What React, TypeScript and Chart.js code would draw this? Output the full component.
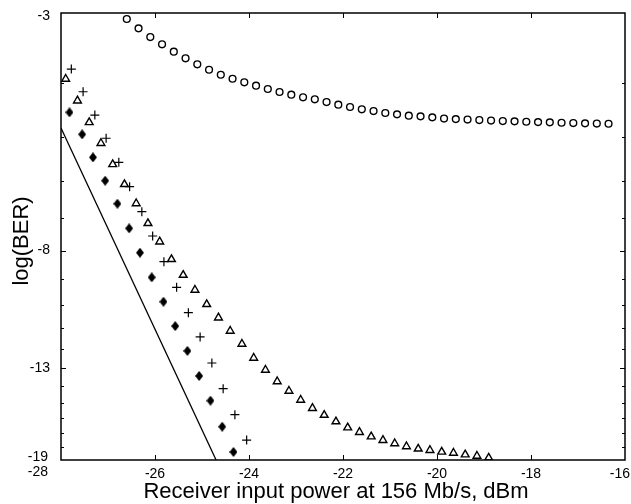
import React, { useEffect, useRef } from "react";
import { Chart, registerables } from "chart.js";

Chart.register(...registerables);

// ---- Data (x: receiver input power in dBm, y: log(BER)) ----
const xTickValues = [-28, -26, -24, -22, -20, -18, -16];
const yTickLabelValues = [-3, -8, -13, -19];
const yMinorTickValues = [-4, -5, -6, -7, -9, -10, -11, -12, -14, -15, -16, -17, -18];

const circleX = [
  -26.6, -26.35, -26.1, -25.85, -25.6, -25.35, -25.1, -24.85, -24.6, -24.35,
  -24.1, -23.85, -23.6, -23.35, -23.1, -22.85, -22.6, -22.35, -22.1, -21.85,
  -21.6, -21.35, -21.1, -20.85, -20.6, -20.35, -20.1, -19.85, -19.6, -19.35,
  -19.1, -18.85, -18.6, -18.35, -18.1, -17.85, -17.6, -17.35, -17.1, -16.85,
  -16.6, -16.35,
];
const circleY = [
  -3.075, -3.196, -3.313, -3.414, -3.52, -3.617, -3.708, -3.792, -3.871, -3.936,
  -3.994, -4.05, -4.106, -4.157, -4.204, -4.249, -4.284, -4.333, -4.381, -4.423,
  -4.465, -4.497, -4.534, -4.559, -4.585, -4.597, -4.616, -4.639, -4.649, -4.658,
  -4.668, -4.677, -4.687, -4.693, -4.701, -4.707, -4.712, -4.72, -4.726, -4.732,
  -4.736, -4.74,
];

const triangleX = [
  -27.9, -27.65, -27.4, -27.15, -26.9, -26.65, -26.4, -26.15, -25.9, -25.65,
  -25.4, -25.15, -24.9, -24.65, -24.4, -24.15, -23.9, -23.65, -23.4, -23.15,
  -22.9, -22.65, -22.4, -22.15, -21.9, -21.65, -21.4, -21.15, -20.9, -20.65,
  -20.4, -20.15, -19.9, -19.65, -19.4, -19.15, -18.9,
];
const triangleY = [
  -3.94, -4.309, -4.712, -5.137, -5.605, -6.086, -6.588, -7.149, -7.714, -8.295,
  -8.852, -9.416, -9.989, -10.557, -11.153, -11.768, -12.468, -13.102, -13.739, -14.288,
  -14.83, -15.34, -15.78, -16.21, -16.62, -16.94, -17.25, -17.51, -17.75, -17.97,
  -18.14, -18.25, -18.37, -18.46, -18.58, -18.69, -18.83,
];

const plusX = [
  -27.78, -27.53, -27.28, -27.04, -26.77, -26.54, -26.28, -26.05, -25.81, -25.54,
  -25.29, -25.04, -24.79, -24.55, -24.3, -24.05,
];
const plusY = [
  -3.781, -4.153, -4.572, -5.032, -5.559, -6.147, -6.815, -7.535, -8.378, -9.312,
  -10.34, -11.43, -12.73, -14.15, -15.76, -17.5,
];

const diamondX = [
  -27.82, -27.55, -27.32, -27.06, -26.8, -26.55, -26.32, -26.07, -25.82, -25.57,
  -25.31, -25.06, -24.82, -24.57, -24.33,
];
const diamondY = [
  -4.521, -4.951, -5.445, -5.996, -6.594, -7.299, -8.072, -8.937, -9.883, -10.93,
  -12.11, -13.43, -14.87, -16.56, -18.38,
];

const lineX = [-28, -24.7];
const lineY = [-4.825, -19];

const xTitle = "Receiver input power at 156 Mb/s, dBm";
const yTitle = "log(BER)";

// y is drawn on a logarithmic axis of -log(BER)
const toPoints = (xs: number[], ys: number[]) =>
  xs.map((x, i) => ({ x, y: -ys[i] }));

const FONT = '"Liberation Sans", Arial, Helvetica, sans-serif';

const framePlugin = {
  id: "framePlugin",
  afterDraw(chart: any) {
    const { ctx, chartArea: a, scales } = chart;
    const xs = scales.x;
    const ys = scales.y;
    ctx.save();
    ctx.strokeStyle = "#000";
    ctx.fillStyle = "#000";

    const seg = (x1: number, y1: number, x2: number, y2: number) => {
      ctx.beginPath();
      ctx.moveTo(x1, y1);
      ctx.lineTo(x2, y2);
      ctx.stroke();
    };

    // ticks
    ctx.lineWidth = 1;
    xTickValues.forEach((v) => {
      const px = Math.round(xs.getPixelForValue(v)) + 0.5;
      if (px <= a.left + 2 || px >= a.right - 2) return;
      seg(px, a.bottom, px, a.bottom - 5);
      seg(px, a.top, px, a.top + 5);
    });
    yMinorTickValues.forEach((v) => {
      const py = Math.round(ys.getPixelForValue(-v)) + 0.5;
      seg(a.left, py, a.left + 3, py);
      seg(a.right, py, a.right - 3, py);
    });
    yTickLabelValues.forEach((v) => {
      const py = Math.round(ys.getPixelForValue(-v)) + 0.5;
      if (py <= a.top + 2 || py >= a.bottom - 2) return;
      seg(a.left, py, a.left + 5, py);
      seg(a.right, py, a.right - 5, py);
    });

    // frame
    ctx.lineWidth = 1.5;
    ctx.strokeRect(a.left, a.top, a.right - a.left, a.bottom - a.top);

    // tick labels
    ctx.font = `14px ${FONT}`;
    ctx.textBaseline = "middle";
    yTickLabelValues.forEach((v, i) => {
      let py = ys.getPixelForValue(-v);
      ctx.textAlign = "right";
      if (i === 0) py += 3;
      if (i === yTickLabelValues.length - 1) py -= 3;
      ctx.fillText(String(v), i === yTickLabelValues.length - 1 ? 48 : 50, py);
    });
    xTickValues.forEach((v, i) => {
      const px = xs.getPixelForValue(v);
      const py = a.bottom + 14;
      if (i === 0) {
        ctx.textAlign = "right";
        ctx.fillText(String(v), 48, py - 2);
      } else if (i === xTickValues.length - 1) {
        ctx.textAlign = "right";
        ctx.fillText(String(v), 630, py);
      } else {
        ctx.textAlign = "center";
        ctx.fillText(String(v), px, py);
      }
    });

    // titles
    ctx.font = `22px ${FONT}`;
    ctx.textAlign = "center";
    ctx.fillText(xTitle, 336, 492);
    ctx.translate(22, 241);
    ctx.rotate(-Math.PI / 2);
    ctx.fillText(yTitle, 0, 0);
    ctx.restore();
  },
};

function makeDiamond(): HTMLCanvasElement {
  const c = document.createElement("canvas");
  c.width = 8;
  c.height = 10;
  const g = c.getContext("2d")!;
  g.fillStyle = "#000";
  g.beginPath();
  g.moveTo(4, 0);
  g.lineTo(8, 5);
  g.lineTo(4, 10);
  g.lineTo(0, 5);
  g.closePath();
  g.fill();
  return c;
}

export default function App() {
  const ref = useRef<HTMLCanvasElement>(null);

  useEffect(() => {
    if (!ref.current) return;
    const diamond = makeDiamond();
    const chart = new Chart(ref.current, {
      type: "scatter",
      data: {
        datasets: [
          {
            label: "line",
            data: toPoints(lineX, lineY),
            showLine: true,
            borderColor: "#000",
            borderWidth: 1.3,
            pointRadius: 0,
          } as any,
          {
            label: "circles",
            data: toPoints(circleX, circleY),
            pointStyle: "circle",
            pointRadius: 3.4,
            borderColor: "#000",
            backgroundColor: "#fff",
            borderWidth: 1.4,
          },
          {
            label: "triangles",
            data: toPoints(triangleX, triangleY),
            pointStyle: "triangle",
            pointRadius: 4.5,
            borderColor: "#000",
            backgroundColor: "#fff",
            borderWidth: 1.4,
          },
          {
            label: "plus",
            data: toPoints(plusX, plusY),
            pointStyle: "cross",
            pointRadius: 4.5,
            borderColor: "#000",
            backgroundColor: "#000",
            borderWidth: 1.2,
          },
          {
            label: "diamonds",
            data: toPoints(diamondX, diamondY),
            pointStyle: diamond as any,
            pointRadius: 4,
            borderColor: "#000",
            backgroundColor: "#000",
          },
        ],
      },
      options: {
        responsive: false,
        animation: false,
        layout: { padding: { left: 61, right: 6, top: 13, bottom: 44 } },
        plugins: {
          legend: { display: false },
          tooltip: { enabled: false },
        },
        scales: {
          x: { type: "linear", min: -28, max: -16, display: false },
          y: { type: "logarithmic", min: 3, max: 19, reverse: true, display: false },
        },
      },
      plugins: [framePlugin],
    });
    return () => chart.destroy();
  }, []);

  return (
    <div style={{ position: "absolute", left: 0, top: 0, width: 631, height: 504, background: "#fff" }}>
      <canvas ref={ref} width={631} height={504} style={{ display: "block" }} />
    </div>
  );
}
